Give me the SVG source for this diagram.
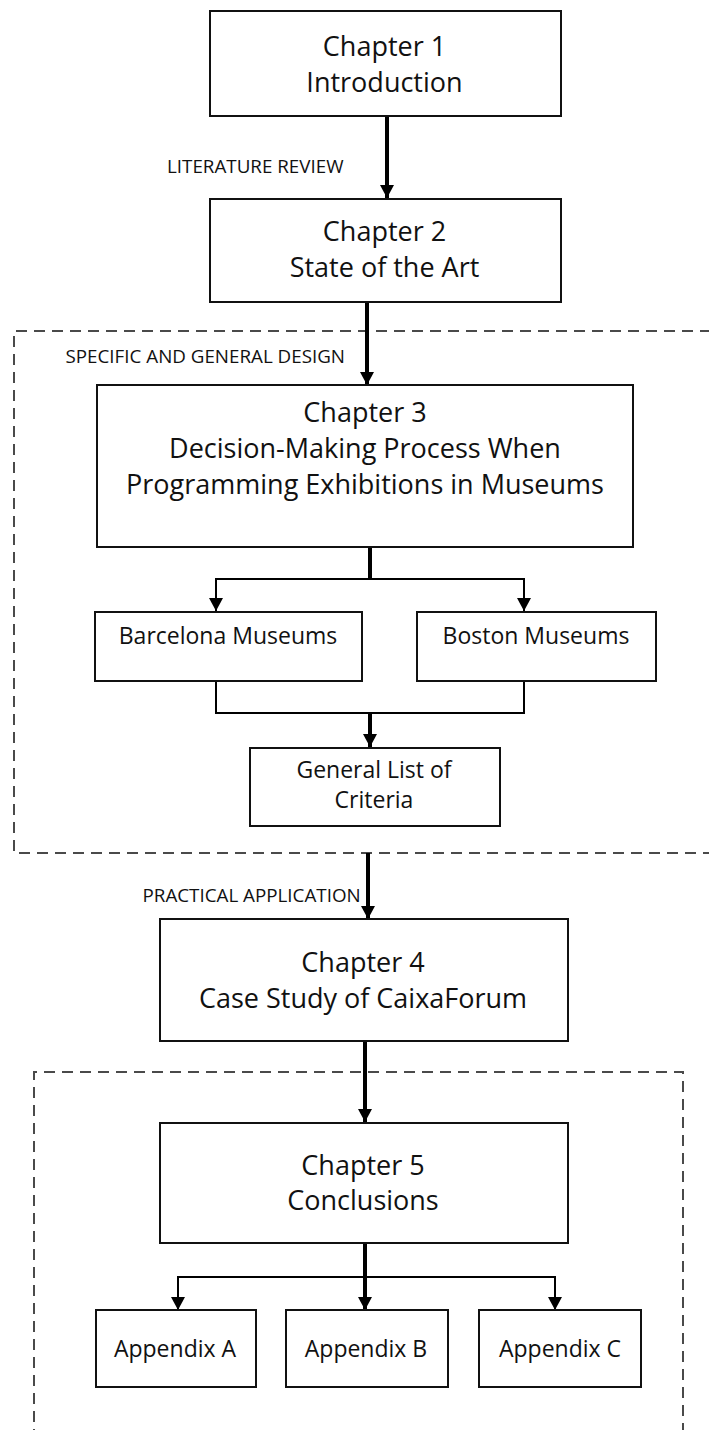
<svg xmlns="http://www.w3.org/2000/svg" width="709" height="1430" viewBox="0 0 709 1430">
<style>
  .box { fill: #ffffff; stroke: #111111; stroke-width: 2; }
  .t { font-family: "Open Sans", "Noto Sans", "DejaVu Sans", sans-serif; fill: #111111; }
  .big { font-size: 27px; text-anchor: middle; }
  .mid { font-size: 23px; text-anchor: middle; }
  .lbl { font-size: 18.8px; }
  .dash { fill: none; stroke: #4a4a4a; stroke-width: 2; stroke-dasharray: 11 7; }
  .thick { fill: none; stroke: #000000; stroke-width: 4; }
  .thin { fill: none; stroke: #000000; stroke-width: 2; }
</style>
<defs>
  <marker id="ah" viewBox="0 0 13 14" refX="13" refY="7" markerWidth="13" markerHeight="14" markerUnits="userSpaceOnUse" orient="auto">
    <path d="M0,0 L13,7 L0,14 Z" fill="#000000"/>
  </marker>
</defs>
<rect width="709" height="1430" fill="#ffffff"/>

<g id="groups">
  <path id="group-design" class="dash" d="M711,331 L14,331 L14,853 L711,853"/>
  <path id="group-conclusions" class="dash" d="M34,1440 L34,1072 L683,1072 L683,1440"/>
</g>

<g id="connectors">
  <line class="thick" x1="387" y1="116" x2="387" y2="198" marker-end="url(#ah)"/>
  <line class="thick" x1="367" y1="302" x2="367" y2="385" marker-end="url(#ah)"/>
  <line class="thick" x1="370" y1="547" x2="370" y2="580"/>
  <polyline class="thin" points="216,611 216,579 524,579 524,611" />
  <line class="thin" x1="216" y1="590" x2="216" y2="611" marker-end="url(#ah)"/>
  <line class="thin" x1="524" y1="590" x2="524" y2="611" marker-end="url(#ah)"/>
  <polyline class="thin" points="216,681 216,713 524,713 524,681"/>
  <line class="thick" x1="370" y1="712" x2="370" y2="747" marker-end="url(#ah)"/>
  <line class="thick" x1="368" y1="853" x2="368" y2="919" marker-end="url(#ah)"/>
  <line class="thick" x1="365" y1="1041" x2="365" y2="1122" marker-end="url(#ah)"/>
  <line class="thick" x1="365" y1="1243" x2="365" y2="1310" marker-end="url(#ah)"/>
  <polyline class="thin" points="178,1300 178,1277 555,1277 555,1300"/>
  <line class="thin" x1="178" y1="1290" x2="178" y2="1310" marker-end="url(#ah)"/>
  <line class="thin" x1="555" y1="1290" x2="555" y2="1310" marker-end="url(#ah)"/>
  <text class="t lbl" x="167" y="173">LITERATURE REVIEW</text>
  <text class="t lbl" x="65.5" y="363">SPECIFIC AND GENERAL DESIGN</text>
  <text class="t lbl" x="142.5" y="902">PRACTICAL APPLICATION</text>
</g>

<g id="chapter1">
  <rect class="box" x="210" y="11" width="351" height="105"/>
  <text class="t big" x="384.5" y="56">Chapter 1</text>
  <text class="t big" x="384.5" y="92">Introduction</text>
</g>
<g id="chapter2">
  <rect class="box" x="210" y="199" width="351" height="103"/>
  <text class="t big" x="384.5" y="241">Chapter 2</text>
  <text class="t big" x="384.5" y="277">State of the Art</text>
</g>
<g id="chapter3">
  <rect class="box" x="97" y="385" width="536" height="162"/>
  <text class="t big" x="365" y="422">Chapter 3</text>
  <text class="t big" x="365" y="458">Decision-Making Process When</text>
  <text class="t big" x="365" y="494">Programming Exhibitions in Museums</text>
</g>
<g id="barcelona">
  <rect class="box" x="95" y="612" width="267" height="69"/>
  <text class="t mid" x="228" y="644">Barcelona Museums</text>
</g>
<g id="boston">
  <rect class="box" x="417" y="612" width="239" height="69"/>
  <text class="t mid" x="536" y="644">Boston Museums</text>
</g>
<g id="criteria">
  <rect class="box" x="250" y="748" width="250" height="78"/>
  <text class="t mid" x="374" y="778">General List of</text>
  <text class="t mid" x="374" y="808">Criteria</text>
</g>
<g id="chapter4">
  <rect class="box" x="160" y="919" width="408" height="122"/>
  <text class="t big" x="363" y="972">Chapter 4</text>
  <text class="t big" x="363" y="1008">Case Study of CaixaForum</text>
</g>
<g id="chapter5">
  <rect class="box" x="160" y="1123" width="408" height="120"/>
  <text class="t big" x="363" y="1175">Chapter 5</text>
  <text class="t big" x="363" y="1210">Conclusions</text>
</g>
<g id="appendixA">
  <rect class="box" x="96" y="1310" width="160" height="77"/>
  <text class="t mid" x="175" y="1357">Appendix A</text>
</g>
<g id="appendixB">
  <rect class="box" x="286" y="1310" width="162" height="77"/>
  <text class="t mid" x="366" y="1357">Appendix B</text>
</g>
<g id="appendixC">
  <rect class="box" x="479" y="1310" width="162" height="77"/>
  <text class="t mid" x="560" y="1357">Appendix C</text>
</g>
</svg>
